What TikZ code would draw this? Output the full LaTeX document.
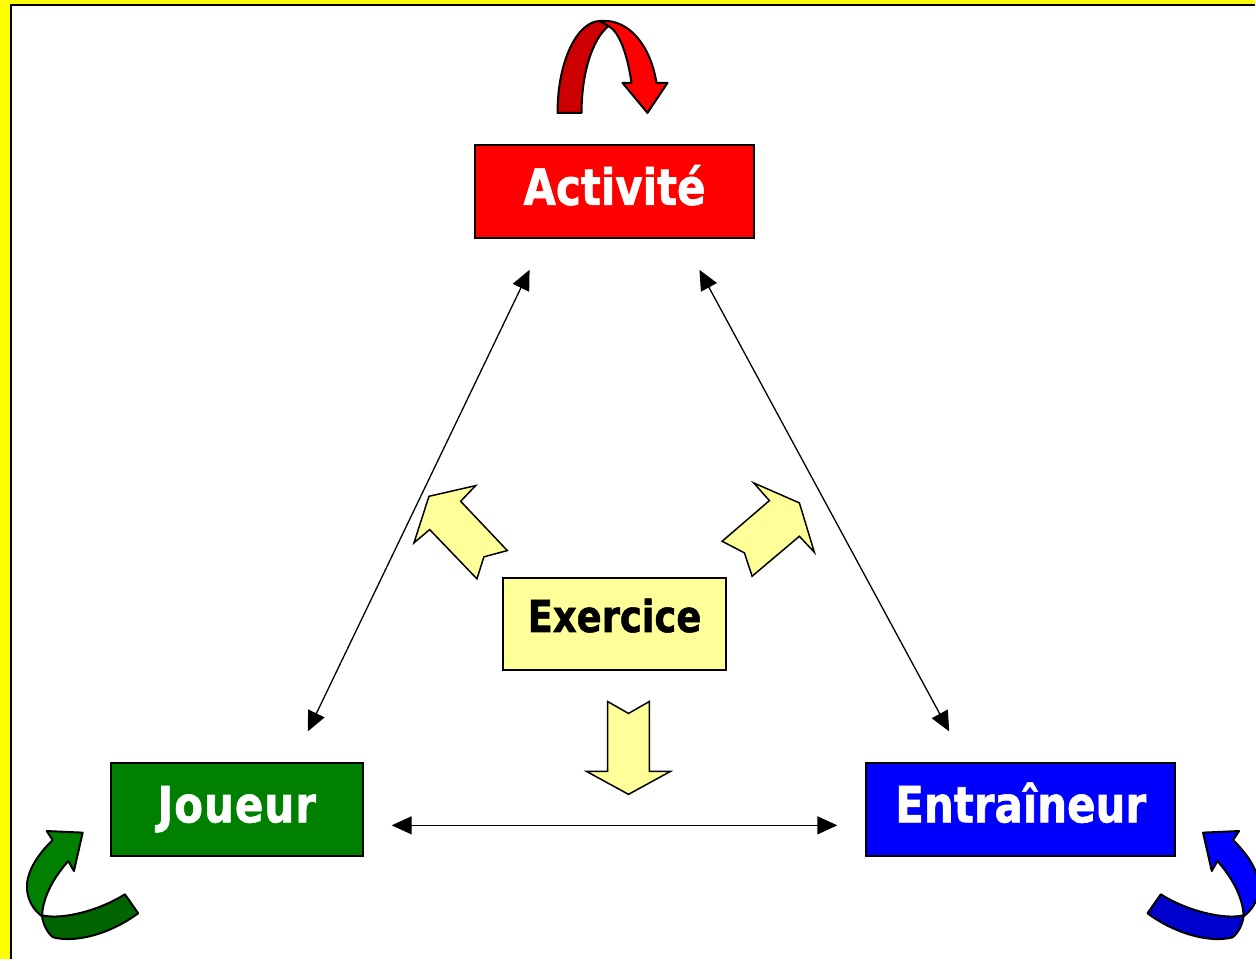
\documentclass[tikz,border=0pt]{standalone}
\usepackage{fontspec}
\newfontfamily\boxfont[FakeStretch=0.84,FakeBold=1.2]{DejaVu Sans}
\usetikzlibrary{arrows.meta}
\definecolor{redL}{HTML}{FF0000}
\definecolor{redD}{HTML}{CC0000}
\definecolor{greenL}{HTML}{008000}
\definecolor{greenD}{HTML}{006400}
\definecolor{blueL}{HTML}{0000FF}
\definecolor{blueD}{HTML}{0000CC}
\definecolor{yellowL}{HTML}{FFFF99}
\definecolor{frameY}{HTML}{FFFF00}
\begin{document}
\begin{tikzpicture}[x=0.5pt,y=-0.5pt,
  box/.style={draw=black,line width=1pt,inner sep=0pt,outer sep=0pt,minimum height=46.5pt,
    font=\boxfont\bfseries\fontsize{25}{30}\selectfont,text=white,text height=12.5pt,text depth=0pt},
  link/.style={line width=0.65pt,{Triangle[length=10pt,width=9pt]}-{Triangle[length=10pt,width=9pt]}},
  blockarrow/.style={draw=black,line width=0.75pt,fill=yellowL,line join=miter},
  ribbon/.style={draw=black,line width=1pt,line join=round},
  pics/curl/.style n args={2}{code={
    \filldraw[ribbon,fill=#1] (52.7,840.7) -- (46.7,831.7) -- (82.7,833.3) -- (74,871.7) -- (68.3,861.7)
      .. controls (54,878) and (43,897) .. (42,917)
      .. controls (34,911) and (28,902) .. (27,890)
      .. controls (26,875) and (35,858) .. (52.7,840.7) -- cycle;
    \filldraw[ribbon,fill=#2] (42,916) .. controls (62,921) and (100,911) .. (125,895)
      -- (138.3,914) .. controls (110,935) and (75,944) .. (53,938)
      .. controls (47,933) and (43,925) .. (42,916) -- cycle;
  }}
]
% frame
\fill[frameY] (0,0) rectangle (1256,960);
\fill[white] (11,5) rectangle (1256,960);
\draw[line width=1pt] (11,960) -- (11,5) -- (1256,5);
\useasboundingbox (0,0) rectangle (1256,960);

% boxes
\node[box,fill=redL,minimum width=140pt,text height=13.5pt] (act) at (615,191.5) {Activité};
\node[box,fill=greenL,minimum width=126pt] (jou) at (237,810.5) {J\kern0.5pt o\kern0.5pt u\kern0.5pt e\kern0.5pt u\kern0.5pt r};
\node[box,fill=blueL,minimum width=154.5pt] (ent) at (1021.5,810.5) {Entraîneur};
\node[box,fill=yellowL,text=black,minimum width=112pt,text height=8pt,font=\boxfont\bfseries\fontsize{22}{26}\selectfont] (exe) at (615,624.5) {Exercice};

% connector ends
\coordinate (actL) at (530,270);
\coordinate (jouT) at (308,732);
\coordinate (actR) at (700,270);
\coordinate (entT) at (950,732);
\coordinate (jouR) at (392,826);
\coordinate (entL) at (838,826);
\draw[link] (actL) -- (jouT);
\draw[link] (actR) -- (entT);
\draw[link] (jouR) -- (entL);

% yellow block arrows
\filldraw[blockarrow] (608,702) -- (629,714) -- (650,702) -- (650,772) -- (671,772) -- (629,795) -- (587,772) -- (608,772) -- cycle;
\filldraw[blockarrow] (429.3,496.7) -- (476,486) -- (461,501.7) -- (507.7,551) -- (484.3,557.3) -- (477.3,579.3) -- (430,530) -- (414.3,543.3) -- cycle;
\filldraw[blockarrow] (800,503.3) -- (815,552.7) -- (800,536.7) -- (752.7,576.7) -- (745,553.3) -- (722.7,541.7) -- (770,501) -- (754.3,483.3) -- cycle;

% red loop arrow
\filldraw[ribbon,fill=redD] (558,113) .. controls (558,60) and (578,22) .. (600,21) -- (609,26)
  .. controls (592,40) and (582,75) .. (582,113) -- cycle;
\filldraw[ribbon,fill=redL] (600,21) .. controls (632,18) and (652,50) .. (657,83) -- (668,83) -- (648,113)
  -- (623,83) -- (632,83) .. controls (628,55) and (620,32) .. (609,26)
  .. controls (606,24) and (603,22) .. (600,21) -- cycle;

% green and blue loop arrows
\pic at (0,0) {curl={greenL}{greenD}};
\pic[xscale=-1] at (1286.7,0) {curl={blueL}{blueD}};
\end{tikzpicture}
\end{document}
